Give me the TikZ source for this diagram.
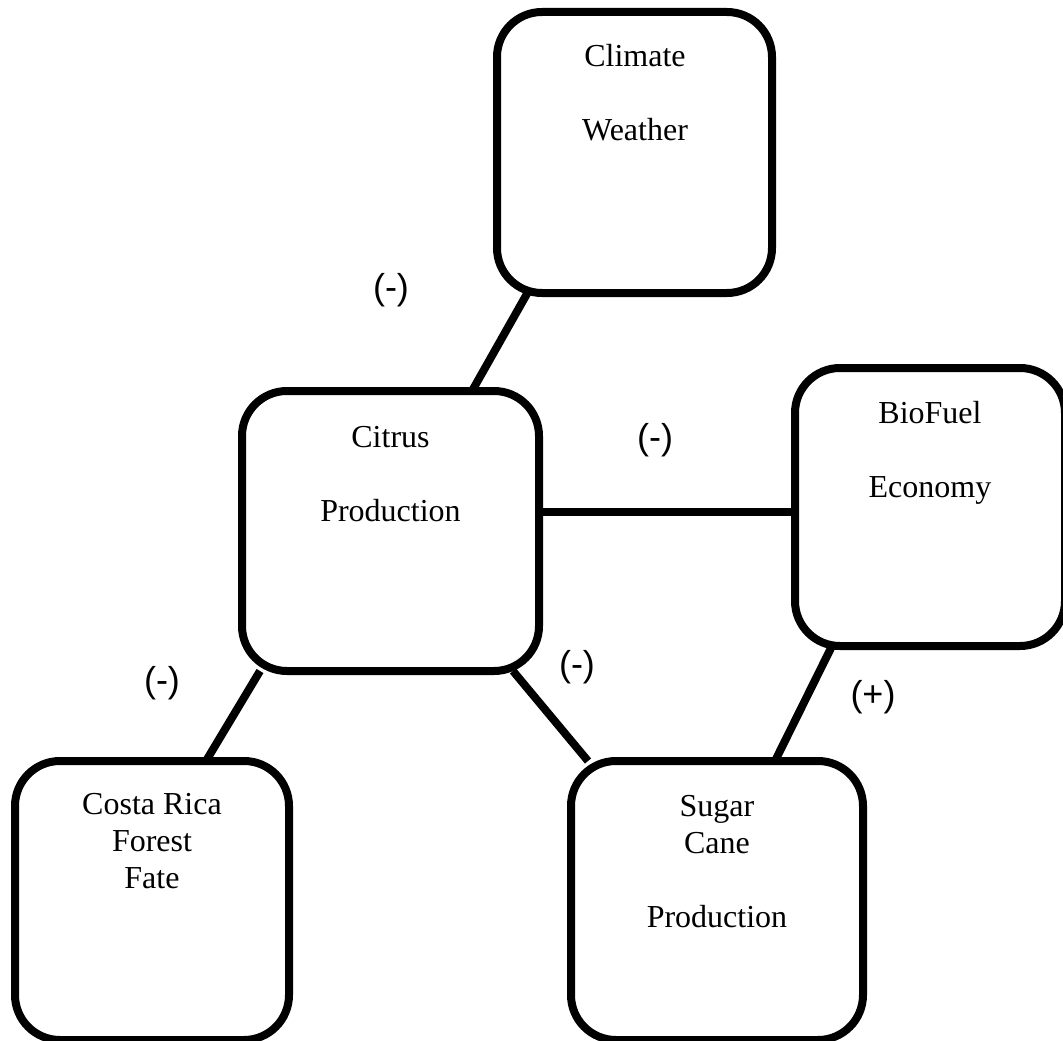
\documentclass[tikz,border=0pt]{standalone}
\usepackage{fontspec}
\setmainfont{Liberation Serif}
\newfontfamily\labelfont{Liberation Sans}
\usetikzlibrary{backgrounds}
\tikzset{
  box/.style={draw=black, line width=8pt, fill=white, rounded corners=45pt, inner sep=0pt, outer sep=0pt},
  boxtext/.style={anchor=base, align=center, inner sep=0pt, font=\fontsize{32}{36.8}\selectfont},
  sign/.style={inner sep=0pt, font=\labelfont\fontsize{36}{40}\selectfont},
  link/.style={draw=black, line width=8pt}
}
\begin{document}
\begin{tikzpicture}[x=1pt, y=-1pt]
\useasboundingbox (0,0) rectangle (1063,1041);
\clip (0,0) rectangle (1063,1041);
% boxes
\node[box, minimum width=275pt, minimum height=281pt] (cl) at (634.5,152.5) {};
\node[box, minimum width=297pt, minimum height=280pt] (ci) at (390.5,531) {};
\node[box, minimum width=270pt, minimum height=278pt] (bf) at (930,507) {};
\node[box, minimum width=274pt, minimum height=279pt] (cr) at (152,900.5) {};
\node[box, minimum width=292pt, minimum height=279pt] (su) at (717,900.5) {};
% texts (anchored at the baseline of the last line)
\node[boxtext] (clt) at (635,140) {Climate\\[36.8pt]Weather};
\node[boxtext] (cit) at (390.5,521) {Citrus\\[36.8pt]Production};
\node[boxtext] (bft) at (930,497) {BioFuel\\[36.8pt]Economy};
\node[boxtext] (crt) at (152,888) {Costa Rica\\Forest\\Fate};
\node[boxtext] (sut) at (717,927) {Sugar\\Cane\\[36.8pt]Production};
% signs
\node[sign] (s1) at (391,290) {(-)};
\node[sign] (s2) at (655,440) {(-)};
\node[sign] (s3) at (162,683) {(-)};
\node[sign] (s4) at (577,667) {(-)};
\node[sign] (s5) at (873,697) {(+)};
% connectors
\begin{scope}[on background layer]
\draw[link] ([xshift=31pt,yshift=1pt]cl.south west) -- ([xshift=230pt]ci.north west);
\draw[link] ([yshift=19pt]ci.east) -- ([yshift=19pt]ci.east -| bf.west);
\draw[link] ([xshift=18pt]ci.south west) -- ([xshift=191pt]cr.north west);
\draw[link] ([xshift=-26pt]ci.south east) -- ([xshift=17pt]su.north west);
\draw[link] ([xshift=37pt]bf.south west) -- ([xshift=204pt]su.north west);
\end{scope}
\end{tikzpicture}
\end{document}
